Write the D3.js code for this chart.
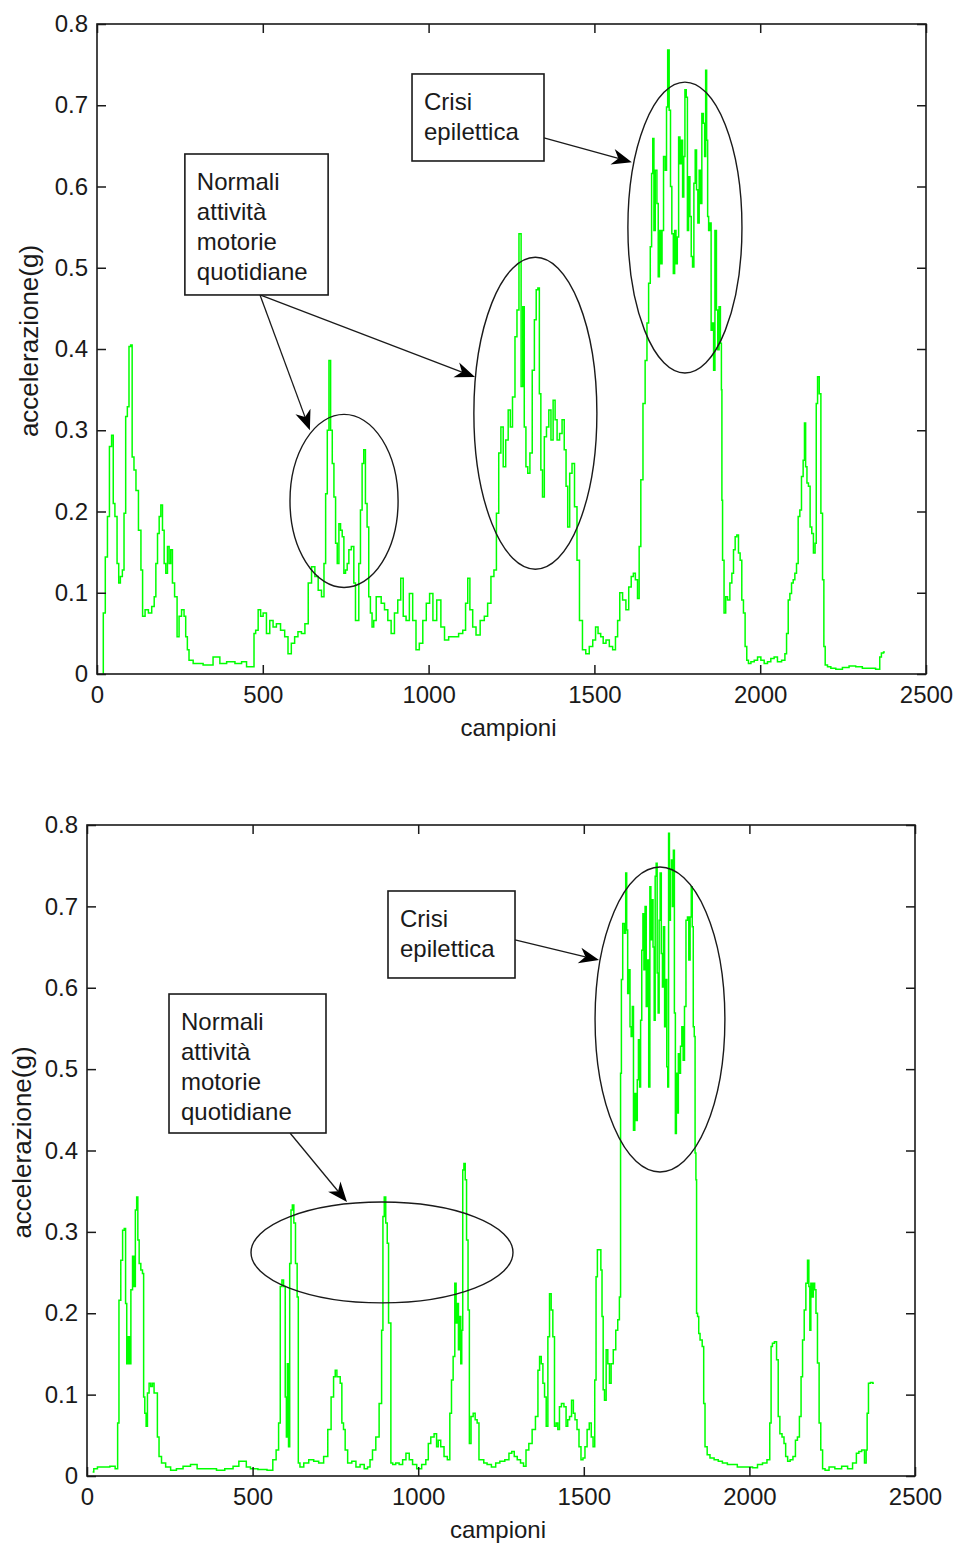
<!DOCTYPE html>
<html>
<head>
<meta charset="utf-8">
<script src="https://cdn.jsdelivr.net/npm/d3@7"></script>
<style>
  html, body { margin: 0; padding: 0; background: #fff; }
  svg text { font-family: "Liberation Sans", Arial, Helvetica, sans-serif; fill: #1a1a1a; }
</style>
</head>
<body>
<svg id="chart" width="954" height="1544"></svg>
<script>
// Axis ticks
const campioniTicks = [0, 500, 1000, 1500, 2000, 2500];
const accelTicks = [0, 0.1, 0.2, 0.3, 0.4, 0.5, 0.6, 0.7, 0.8];
const accelTickLabels = ["0", "0.1", "0.2", "0.3", "0.4", "0.5", "0.6", "0.7", "0.8"];
const xTitle = "campioni";
const yTitle = "accelerazione(g)";

// Recording 1: [sample, acceleration (g)]
const serieSuperiore = [
  [17,0.001],[21,0.075],[29,0.144],[34,0.194],[41,0.28],[47,0.294],[51,0.21],[57,0.194],[64,0.136],[67,0.112],
  [74,0.12],[79,0.128],[84,0.198],[89,0.317],[94,0.329],[99,0.403],[104,0.405],[108,0.267],[115,0.251],[120,0.226],
  [130,0.177],[135,0.128],[140,0.071],[150,0.079],[160,0.075],[170,0.083],[175,0.095],[180,0.136],[185,0.173],[190,0.194],
  [195,0.208],[200,0.177],[205,0.136],[210,0.124],[215,0.157],[220,0.136],[225,0.153],[230,0.112],[238,0.095],[245,0.046],
  [250,0.071],[260,0.079],[265,0.071],[270,0.046],[275,0.03],[280,0.017],[300,0.013],[340,0.011],[360,0.021],[381,0.013],
  [401,0.015],[431,0.013],[441,0.015],[461,0.009],[471,0.009],[476,0.05],[481,0.054],[491,0.079],[496,0.071],[506,0.075],
  [516,0.05],[526,0.066],[536,0.058],[546,0.062],[561,0.054],[571,0.046],[581,0.025],[591,0.038],[601,0.046],[611,0.052],
  [622,0.05],[632,0.062],[642,0.112],[652,0.132],[662,0.12],[672,0.103],[682,0.095],[687,0.136],[692,0.222],[697,0.30],
  [702,0.386],[707,0.30],[712,0.259],[717,0.218],[722,0.161],[727,0.136],[732,0.185],[737,0.177],[742,0.169],[747,0.124],
  [752,0.128],[757,0.136],[762,0.153],[772,0.157],[777,0.112],[782,0.066],[787,0.066],[792,0.136],[797,0.202],[802,0.259],
  [807,0.276],[812,0.21],[817,0.181],[822,0.095],[827,0.075],[832,0.058],[837,0.066],[847,0.095],
  [852,0.095],[862,0.087],[872,0.079],[882,0.066],[892,0.05],[902,0.075],[912,0.091],[920,0.118],[927,0.071],[937,0.066],
  [947,0.099],[957,0.066],[967,0.03],[977,0.038],[988,0.066],[998,0.087],[1008,0.099],[1018,0.066],[1031,0.091],[1043,0.058],
  [1053,0.042],[1068,0.046],[1083,0.046],[1098,0.05],[1108,0.054],[1115,0.087],[1121,0.118],[1128,0.079],[1138,0.058],[1148,0.048],
  [1163,0.066],[1173,0.071],[1183,0.087],[1193,0.12],[1201,0.128],[1208,0.198],[1215,0.272],[1221,0.304],[1229,0.255],[1236,0.288],
  [1244,0.325],[1249,0.304],[1257,0.341],[1264,0.415],[1269,0.448],[1276,0.542],[1282,0.354],[1286,0.452],[1291,0.304],[1296,0.255],
  [1302,0.247],[1309,0.272],[1316,0.374],[1322,0.436],[1327,0.473],[1332,0.475],[1336,0.345],[1341,0.251],[1346,0.218],[1352,0.292],
  [1359,0.304],[1366,0.325],[1372,0.288],[1379,0.337],[1384,0.313],[1391,0.288],[1399,0.296],[1406,0.313],[1412,0.276],[1417,0.231],
  [1422,0.181],[1429,0.247],[1436,0.259],[1444,0.206],[1451,0.14],[1459,0.066],[1469,0.03],[1479,0.025],[1490,0.034],[1500,0.042],
  [1507,0.058],[1515,0.05],[1523,0.046],[1530,0.038],[1540,0.042],[1550,0.034],[1560,0.03],[1567,0.046],[1573,0.066],[1580,0.1],
  [1590,0.091],[1600,0.079],[1607,0.107],[1615,0.12],[1620,0.124],[1627,0.116],[1633,0.093],[1637,0.157],[1643,0.239],[1650,0.333],
  [1656,0.386],[1661,0.432],[1666,0.481],[1671,0.526],[1674,0.616],[1678,0.659],[1681,0.546],[1686,0.62],[1691,0.579],[1694,0.489],
  [1698,0.546],[1702,0.505],[1706,0.546],[1711,0.637],[1716,0.62],[1719,0.698],[1723,0.768],[1728,0.694],[1731,0.60],[1736,0.542],
  [1740,0.493],[1744,0.546],[1748,0.505],[1752,0.538],[1756,0.661],[1760,0.628],[1764,0.657],[1768,0.587],[1771,0.637],[1775,0.719],
  [1779,0.71],[1782,0.546],[1786,0.612],[1790,0.563],[1794,0.514],[1798,0.501],[1802,0.604],[1806,0.645],[1810,0.596],[1814,0.555],
  [1818,0.62],[1822,0.579],[1826,0.69],[1831,0.678],[1834,0.637],[1837,0.743],[1840,0.657],[1843,0.563],[1846,0.546],[1850,0.555],
  [1854,0.423],[1858,0.432],[1861,0.374],[1866,0.546],[1870,0.448],[1874,0.399],[1878,0.452],[1882,0.407],[1884,0.35],[1885,0.214],
  [1888,0.14],[1894,0.075],[1898,0.095],[1905,0.091],[1912,0.112],[1917,0.124],[1922,0.153],[1927,0.169],[1932,0.171],[1937,0.149],
  [1942,0.14],[1947,0.091],[1952,0.075],[1957,0.034],[1962,0.017],[1967,0.013],[1977,0.015],[1987,0.017],[1997,0.021],[2007,0.017],
  [2017,0.013],[2027,0.015],[2037,0.019],[2047,0.021],[2057,0.015],[2072,0.017],[2077,0.025],[2082,0.05],[2087,0.091],[2092,0.099],
  [2097,0.112],[2102,0.116],[2107,0.124],[2112,0.136],[2117,0.194],[2122,0.202],[2127,0.243],[2132,0.263],[2135,0.309],[2139,0.255],
  [2143,0.235],[2148,0.231],[2153,0.181],[2158,0.173],[2163,0.149],[2168,0.161],[2170,0.333],[2176,0.366],[2180,0.345],[2186,0.198],
  [2190,0.116],[2194,0.034],[2198,0.011],[2208,0.009],[2218,0.007],[2238,0.006],[2258,0.008],[2278,0.01],[2298,0.009],[2318,0.007],
  [2338,0.007],[2358,0.006],[2363,0.021],[2368,0.026],[2376,0.027]
];

// Recording 2: [sample, acceleration (g)]
const serieInferiore = [
  [17,0.005],[24,0.009],[39,0.011],[59,0.011],[79,0.012],[91,0.009],[94,0.065],[99,0.216],[105,0.265],[110,0.302],
  [115,0.304],[118,0.212],[122,0.138],[126,0.171],[130,0.138],[135,0.229],[140,0.27],[144,0.233],[148,0.327],[152,0.343],
  [155,0.29],[160,0.261],[165,0.253],[170,0.249],[172,0.097],[177,0.077],[180,0.061],[185,0.102],[190,0.114],[195,0.11],
  [200,0.114],[205,0.102],[210,0.102],[215,0.048],[220,0.024],[230,0.016],[245,0.011],[260,0.007],[280,0.009],[300,0.012],
  [325,0.014],[340,0.009],[381,0.009],[401,0.007],[431,0.009],[451,0.012],[466,0.018],[476,0.018],[486,0.011],[501,0.009],
  [531,0.008],[556,0.007],[566,0.02],[576,0.032],[581,0.065],[586,0.233],[591,0.241],[596,0.233],[601,0.097],[603,0.048],
  [607,0.138],[610,0.036],[614,0.261],[618,0.327],[622,0.333],[627,0.311],[632,0.261],[637,0.22],[639,0.016],[647,0.011],
  [662,0.016],[677,0.02],[692,0.018],[707,0.016],[722,0.024],[732,0.057],[742,0.097],[747,0.122],[752,0.13],[757,0.122],
  [762,0.122],[767,0.114],[772,0.065],[777,0.057],[782,0.032],[792,0.016],[807,0.018],[817,0.011],[832,0.014],[842,0.009],
  [852,0.011],[857,0.02],[867,0.032],[877,0.048],[887,0.089],[892,0.179],[895,0.319],[900,0.343],[904,0.311],[909,0.286],
  [912,0.188],[916,0.188],[919,0.016],[927,0.014],[937,0.016],[948,0.014],[958,0.02],[968,0.028],[978,0.02],[988,0.014],
  [1003,0.009],[1018,0.014],[1028,0.02],[1033,0.04],[1043,0.048],[1053,0.052],[1058,0.036],[1063,0.044],[1073,0.036],[1083,0.024],
  [1093,0.02],[1098,0.077],[1103,0.118],[1108,0.147],[1113,0.237],[1116,0.188],[1120,0.212],[1123,0.155],[1127,0.196],[1130,0.138],
  [1133,0.179],[1136,0.376],[1140,0.384],[1144,0.364],[1148,0.29],[1153,0.204],[1156,0.04],[1163,0.073],[1169,0.077],[1175,0.069],
  [1181,0.065],[1186,0.02],[1193,0.02],[1203,0.016],[1213,0.014],[1229,0.011],[1239,0.016],[1254,0.018],[1269,0.02],[1279,0.028],
  [1286,0.03],[1294,0.024],[1304,0.02],[1314,0.016],[1322,0.012],[1329,0.032],[1339,0.04],[1349,0.057],[1359,0.073],[1364,0.13],
  [1369,0.147],[1374,0.138],[1379,0.114],[1384,0.097],[1389,0.061],[1394,0.171],[1399,0.224],[1404,0.204],[1409,0.171],[1414,0.061],
  [1419,0.065],[1424,0.057],[1429,0.085],[1436,0.089],[1444,0.085],[1449,0.061],[1454,0.069],[1460,0.073],[1466,0.093],[1471,0.077],
  [1476,0.069],[1483,0.057],[1488,0.036],[1495,0.02],[1500,0.022],[1507,0.036],[1513,0.057],[1520,0.065],[1525,0.048],[1531,0.036],
  [1535,0.118],[1539,0.245],[1543,0.278],[1550,0.278],[1553,0.253],[1557,0.196],[1560,0.106],[1565,0.093],[1570,0.155],[1575,0.138],
  [1580,0.114],[1585,0.138],[1593,0.155],[1600,0.179],[1605,0.192],[1610,0.22],
  [1612,0.495],[1615,0.61],[1620,0.679],[1625,0.667],[1628,0.741],[1631,0.671],[1634,0.593],[1638,0.622],[1641,0.552],[1645,0.54],
  [1648,0.577],[1652,0.425],[1656,0.47],[1660,0.437],[1663,0.487],[1667,0.536],[1670,0.478],[1673,0.56],[1677,0.646],[1680,0.691],
  [1683,0.622],[1687,0.70],[1690,0.577],[1694,0.634],[1698,0.478],[1701,0.724],[1704,0.659],[1707,0.708],[1711,0.65],[1714,0.56],
  [1717,0.737],[1720,0.753],[1723,0.618],[1726,0.569],[1729,0.683],[1732,0.741],[1736,0.642],[1739,0.601],[1742,0.675],[1746,0.552],
  [1749,0.61],[1752,0.503],[1755,0.478],[1757,0.79],[1760,0.683],[1763,0.745],[1766,0.757],[1769,0.70],[1772,0.769],[1775,0.569],
  [1778,0.421],[1781,0.495],[1784,0.446],[1787,0.519],[1790,0.495],[1794,0.528],[1798,0.552],[1802,0.511],[1806,0.577],[1811,0.683],
  [1815,0.687],[1819,0.634],[1823,0.687],[1826,0.724],[1829,0.675],[1832,0.552],[1835,0.54],[1837,0.397],[1840,0.364],
  [1841,0.2],[1846,0.196],[1848,0.175],[1854,0.167],[1861,0.159],[1863,0.089],[1869,0.036],[1876,0.026],[1886,0.022],[1901,0.02],
  [1911,0.018],[1926,0.016],[1941,0.014],[1956,0.014],[1971,0.011],[1987,0.011],[2002,0.011],[2017,0.01],[2032,0.014],[2047,0.016],
  [2059,0.02],[2064,0.065],[2067,0.159],[2072,0.163],[2079,0.165],[2085,0.143],[2089,0.073],[2095,0.052],[2102,0.048],[2107,0.04],
  [2112,0.024],[2119,0.018],[2127,0.02],[2136,0.024],[2142,0.044],[2148,0.048],[2154,0.073],[2158,0.122],[2163,0.167],[2168,0.204],
  [2173,0.237],[2178,0.265],[2181,0.233],[2184,0.179],[2187,0.237],[2191,0.22],[2195,0.237],[2199,0.229],[2203,0.2],[2208,0.139],
  [2213,0.065],[2218,0.032],[2224,0.009],[2233,0.007],[2248,0.011],[2268,0.009],[2289,0.012],[2304,0.009],[2319,0.016],[2327,0.028],
  [2334,0.03],[2344,0.032],[2351,0.016],[2354,0.032],[2357,0.077],[2362,0.114],[2369,0.115],[2376,0.114]
];

// Annotation texts
const testoNormali = ["Normali", "attività", "motorie", "quotidiane"];
const testoCrisi = ["Crisi", "epilettica"];

// Annotations, in data units (samples, g)
const boxSuperiore = [
  { righe: testoNormali, x0: 265, x1: 697, y0: 0.640, y1: 0.4665 },
  { righe: testoCrisi, x0: 950, x1: 1348, y0: 0.7385, y1: 0.6314 }
];
const ellissiSuperiore = [
  { cx: 745, cy: 0.213, rx: 163, ry: 0.1065 },
  { cx: 1322, cy: 0.321, rx: 185.5, ry: 0.192 },
  { cx: 1773, cy: 0.5495, rx: 172, ry: 0.179 }
];
const frecceSuperiore = [
  { da: [491.6, 0.4665], a: [642, 0.300] },
  { da: [491.6, 0.4665], a: [1140, 0.3655] },
  { da: [1348, 0.6597], a: [1613, 0.630] }
];

const boxInferiore = [
  { righe: testoNormali, x0: 247.6, x1: 721.6, y0: 0.5923, y1: 0.4215 },
  { righe: testoCrisi, x0: 908.8, x1: 1292.3, y0: 0.7189, y1: 0.612 }
];
const ellissiInferiore = [
  { cx: 890.7, cy: 0.2747, rx: 395.5, ry: 0.062 },
  { cx: 1730, cy: 0.561, rx: 196, ry: 0.1874 }
];
const frecceInferiore = [
  { da: [613, 0.4215], a: [785, 0.3367] },
  { da: [1292.3, 0.6587], a: [1546, 0.634] }
];

const svg = d3.select("#chart");
svg.append("rect").attr("width", 954).attr("height", 1544).attr("fill", "#fff");

const INK = "#1a1a1a";
const FONT = 24;

function pannello(cfg) {
  const { left, right, top, bottom } = cfg;
  const x = d3.scaleLinear().domain([0, 2500]).range([left, right]);
  const y = d3.scaleLinear().domain([0, 0.8]).range([bottom, top]);
  const g = svg.append("g");

  // signal, drawn as a staircase of sample steps
  g.append("path")
    .datum(cfg.dati)
    .attr("fill", "none")
    .attr("stroke", "#00ff00")
    .attr("stroke-width", 1.5)
    .attr("d", d3.line().curve(d3.curveStep).x(d => x(d[0])).y(d => y(d[1])));

  // axes with inward ticks on all four sides
  const styleAxis = sel => {
    sel.select(".domain").remove();
    sel.selectAll(".tick line").attr("stroke", INK).attr("stroke-width", 1.5);
    sel.selectAll("text").attr("font-size", FONT).attr("fill", INK)
      .attr("font-family", '"Liberation Sans", Arial, sans-serif');
  };
  g.append("g").attr("transform", `translate(0,${bottom})`)
    .call(d3.axisBottom(x).tickValues(campioniTicks).tickFormat(d3.format("d"))
      .tickSizeInner(-9).tickSizeOuter(0).tickPadding(12))
    .call(styleAxis);
  g.append("g").attr("transform", `translate(0,${top})`)
    .call(d3.axisTop(x).tickValues(campioniTicks).tickFormat("")
      .tickSizeInner(-9).tickSizeOuter(0))
    .call(styleAxis);
  g.append("g").attr("transform", `translate(${left},0)`)
    .call(d3.axisLeft(y).tickValues(accelTicks).tickFormat((d, i) => accelTickLabels[i])
      .tickSizeInner(-9).tickSizeOuter(0).tickPadding(9))
    .call(styleAxis);
  g.append("g").attr("transform", `translate(${right},0)`)
    .call(d3.axisRight(y).tickValues(accelTicks).tickFormat("")
      .tickSizeInner(-9).tickSizeOuter(0))
    .call(styleAxis);

  g.append("rect")
    .attr("x", left).attr("y", top)
    .attr("width", right - left).attr("height", bottom - top)
    .attr("fill", "none").attr("stroke", INK).attr("stroke-width", 1.6);

  // axis titles
  g.append("text")
    .attr("x", (left + right) / 2 - 3).attr("y", bottom + 62)
    .attr("text-anchor", "middle").attr("font-size", FONT)
    .text(xTitle);
  g.append("text")
    .attr("transform", `translate(${cfg.yTitleX},${(top + bottom) / 2 - 8}) rotate(-90)`)
    .attr("text-anchor", "middle").attr("font-size", 26)
    .text(yTitle);

  // ellipses
  cfg.ellissi.forEach(e => {
    g.append("ellipse")
      .attr("cx", x(e.cx)).attr("cy", y(e.cy))
      .attr("rx", x(e.cx + e.rx) - x(e.cx))
      .attr("ry", y(e.cy - e.ry) - y(e.cy))
      .attr("fill", "none").attr("stroke", INK).attr("stroke-width", 1.4);
  });

  // arrows
  cfg.frecce.forEach(f => {
    const x0 = x(f.da[0]), y0 = y(f.da[1]);
    const x1 = x(f.a[0]), y1 = y(f.a[1]);
    const dx = x1 - x0, dy = y1 - y0, len = Math.hypot(dx, dy);
    const ux = dx / len, uy = dy / len, nx = -uy, ny = ux;
    const L = 20, W = 8, notch = 6;
    const bx = x1 - L * ux, by = y1 - L * uy;
    const mx = x1 - (L - notch) * ux, my = y1 - (L - notch) * uy;
    g.append("line")
      .attr("x1", x0).attr("y1", y0).attr("x2", mx).attr("y2", my)
      .attr("stroke", INK).attr("stroke-width", 1.3);
    g.append("path")
      .attr("d", `M${x1},${y1}L${bx + W * nx},${by + W * ny}L${mx},${my}L${bx - W * nx},${by - W * ny}Z`)
      .attr("fill", "#000");
  });

  // text boxes
  cfg.box.forEach(b => {
    const bx = x(b.x0), by = y(b.y0);
    g.append("rect")
      .attr("x", bx).attr("y", by)
      .attr("width", x(b.x1) - bx).attr("height", y(b.y1) - by)
      .attr("fill", "#fff").attr("stroke", INK).attr("stroke-width", 1.6);
    b.righe.forEach((r, i) => {
      g.append("text")
        .attr("x", bx + 12).attr("y", by + 28 + i * 30)
        .attr("dy", "0.35em").attr("font-size", FONT)
        .text(r);
    });
  });
}

pannello({ left: 97, right: 926, top: 24, bottom: 674, yTitleX: 38,
  dati: serieSuperiore, box: boxSuperiore, ellissi: ellissiSuperiore, frecce: frecceSuperiore });
pannello({ left: 87, right: 915, top: 825, bottom: 1476, yTitleX: 31,
  dati: serieInferiore, box: boxInferiore, ellissi: ellissiInferiore, frecce: frecceInferiore });
</script>
</body>
</html>
